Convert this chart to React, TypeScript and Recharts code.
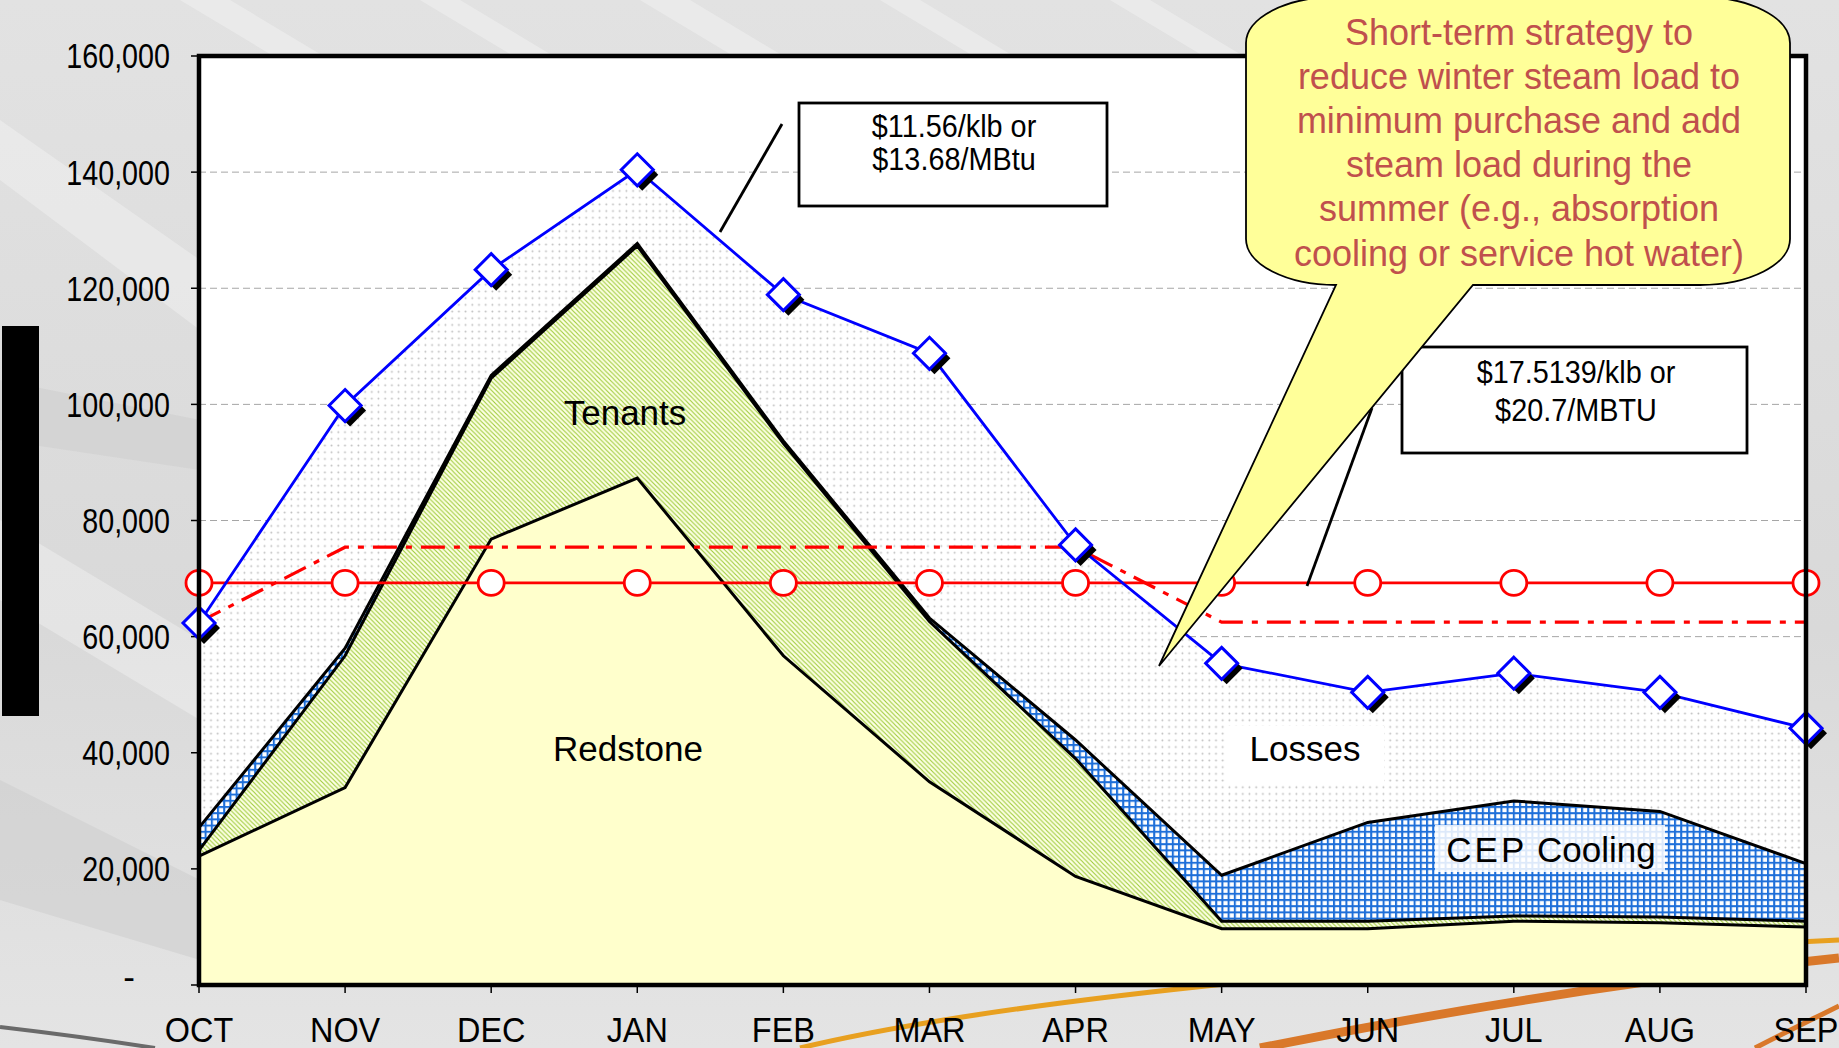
import React from 'react';
import { ComposedChart, Area, Line, XAxis, YAxis, CartesianGrid } from 'recharts';

// monthly steam load (lb)
const months = ['OCT', 'NOV', 'DEC', 'JAN', 'FEB', 'MAR', 'APR', 'MAY', 'JUN', 'JUL', 'AUG', 'SEP'];
const totalSteam = [62350, 99800, 123200, 140400, 118900, 108800, 75800, 55400, 50400, 53700, 50400, 44200];
const redstone = [22200, 34000, 76800, 87300, 56700, 35000, 18700, 9700, 9700, 11000, 10700, 10000];
const tenantsTop = [23200, 56700, 104500, 127300, 93300, 62600, 39000, 11000, 11000, 11900, 11700, 11000];
const coolingTop = [27100, 58000, 105000, 127700, 93700, 63200, 42200, 18900, 28000, 31700, 29900, 20900];
const minPurchase = [69250, 69250, 69250, 69250, 69250, 69250, 69250, 69250, 69250, 69250, 69250, 69250];
const contractLoad = [62500, 75400, 75400, 75400, 75400, 75400, 75400, 62500, 62500, 62500, 62500, 62500];
const yTicks = [0, 20000, 40000, 60000, 80000, 100000, 120000, 140000, 160000];

const W = 1839;
const H = 1048;
const FONT = '"Liberation Sans", Arial, Helvetica, sans-serif';

const chartData = months.map((m, i) => ({
    month: m,
    total: totalSteam[i],
    redstone: redstone[i],
    tenants: tenantsTop[i],
    cooling: coolingTop[i],
    minimum: minPurchase[i],
    contract: contractLoad[i],
}));

const DiamondDot = (props: any) => {
    const { cx, cy, index } = props;
    if (cx == null || cy == null) return null;
    const r = 16;
    const pts = (x: number, y: number) => `${x},${y - r} ${x + r},${y} ${x},${y + r} ${x - r},${y}`;
    return (
        <g key={`dia-${index}`}>
            <polygon points={pts(cx + 5, cy + 5)} fill="#000" />
            <polygon points={pts(cx, cy)} fill="#fff" stroke="#0000FF" strokeWidth={3} />
        </g>
    );
};

const CircleDot = (props: any) => {
    const { cx, cy, index } = props;
    if (cx == null || cy == null) return null;
    return <ellipse key={`cir-${index}`} cx={cx} cy={cy} rx={13} ry={12.5} fill="#fff" stroke="#FF0000" strokeWidth={2.8} />;
};

// narrow-looking tick text: squeeze the glyphs horizontally around the anchor
const YTick = (props: any) => {
    const { x, y, payload } = props;
    if (payload.value === 0) {
        return <text x={x - 41} y={y + 4} textAnchor="middle" fontFamily={FONT} fontSize={35} fill="#000">-</text>;
    }
    return (
        <text transform={`translate(${x},${y}) scale(0.82,1)`} dy="0.355em" textAnchor="end" fontFamily={FONT} fontSize={35} fill="#000">
            {payload.value.toLocaleString('en-US')}
        </text>
    );
};

const XTick = (props: any) => {
    const { x, y, payload } = props;
    return (
        <text transform={`translate(${x},${y}) scale(0.9,1)`} dy="0.71em" textAnchor="middle" fontFamily={FONT} fontSize={36} fill="#000">
            {payload.value}
        </text>
    );
};

// callout bubble outline
const cL = 1246, cR = 1790, cT = -3, cB = 285, crx = 90, cry = 46;
const calloutPath =
    `M ${cL + crx} ${cT} H ${cR - crx} A ${crx} ${cry} 0 0 1 ${cR} ${cT + cry} V ${cB - cry} ` +
    `A ${crx} ${cry} 0 0 1 ${cR - crx} ${cB} H 1473 L 1159 666 L 1336 ${cB} H ${cL + crx} ` +
    `A ${crx} ${cry} 0 0 1 ${cL} ${cB - cry} V ${cT + cry} A ${crx} ${cry} 0 0 1 ${cL + crx} ${cT} Z`;

const calloutLines = [
    'Short-term strategy to',
    'reduce winter steam load to',
    'minimum purchase and add',
    'steam load during the',
    'summer (e.g., absorption',
    'cooling or service hot water)',
];

const BoxText = ({ x, y, children }: { x: number; y: number; children: React.ReactNode }) => (
    <text transform={`translate(${x},${y}) scale(0.93,1)`} textAnchor="middle" fontSize={31} fill="#000">{children}</text>
);

const App: React.FC = () => {
    return (
        <div style={{ position: 'absolute', left: 0, top: 0, width: W, height: H, overflow: 'hidden', background: '#dedede' }}>
            {/* slide background */}
            <svg width={W} height={H} style={{ position: 'absolute', left: 0, top: 0 }}>
                <defs>
                    <linearGradient id="bg" x1="0" y1="0" x2="0" y2="1">
                        <stop offset="0%" stopColor="#e2e2e2" />
                        <stop offset="60%" stopColor="#d9d9d9" />
                        <stop offset="100%" stopColor="#e4e4e4" />
                    </linearGradient>
                </defs>
                <rect width={W} height={H} fill="url(#bg)" />
                <g fill="#ffffff" opacity={0.3}>
                    <polygon points="180,0 230,0 330,60 280,60" />
                    <polygon points="420,0 460,0 560,60 520,60" />
                    <polygon points="640,0 690,0 790,60 740,60" />
                    <polygon points="880,0 920,0 1020,60 980,60" />
                    <polygon points="1110,0 1150,0 1250,60 1210,60" />
                    <polygon points="0,120 0,180 200,330 200,260" />
                    <polygon points="0,520 0,600 200,720 200,640" />
                </g>
                <g fill="#cfcfcf" opacity={0.6}>
                    <polygon points="0,380 200,420 200,470 0,440" />
                    <polygon points="0,780 200,880 200,960 0,900" />
                </g>
                <path d="M 800 1048 C 1000 1000, 1400 960, 1839 940" stroke="#E8A020" strokeWidth={5} fill="none" />
                <path d="M 1260 1048 C 1450 1010, 1650 978, 1839 958" stroke="#D9782A" strokeWidth={9} fill="none" />
                <path d="M 1755 1048 C 1790 1030, 1815 1018, 1839 1006" stroke="#D9782A" strokeWidth={5} fill="none" />
                <path d="M 0 1027 C 60 1034, 110 1041, 155 1048" stroke="#6a6a6a" strokeWidth={4} fill="none" />
            </svg>
            <div style={{ position: 'absolute', left: 2, top: 326, width: 37, height: 390, background: '#000' }} />

            <div style={{ position: 'absolute', left: 0, top: 0 }}>
                <ComposedChart width={W} height={H} data={chartData} margin={{ top: 56, right: 33, bottom: 0, left: 0 }}>
                    <defs>
                        <pattern id="lossDots" patternUnits="userSpaceOnUse" width={6.7} height={6.7}>
                            <rect width={6.7} height={6.7} fill="#fff" />
                            <circle cx={3.3} cy={3.3} r={0.95} fill="#bdbdbd" />
                        </pattern>
                        <pattern id="coolGrid" patternUnits="userSpaceOnUse" width={6.2} height={6.2}>
                            <rect width={6.2} height={6.2} fill="#fff" />
                            <path d="M0,1 H6.2 M1,0 V6.2" stroke="#1E6FD9" strokeWidth={2.1} />
                        </pattern>
                        <pattern id="tenantHatch" patternUnits="userSpaceOnUse" width={4.6} height={4.6}>
                            <rect width={4.6} height={4.6} fill="#FDFFE4" />
                            <path d="M0,0 L4.6,4.6 M-1,3.6 L1,5.6 M3.6,-1 L5.6,1" stroke="#9ECB3A" strokeWidth={1.1} />
                        </pattern>
                    </defs>
                    <CartesianGrid horizontal vertical={false} stroke="#a6a6a6" strokeDasharray="7 4" fill="#ffffff" fillOpacity={1} />
                    <XAxis
                        dataKey="month"
                        interval={0}
                        height={63}
                        tickSize={8}
                        tickMargin={23}
                        axisLine={false}
                        tickLine={{ stroke: '#000', strokeWidth: 1.5 }}
                        tick={<XTick />}
                    />
                    <YAxis
                        domain={[0, 160000]}
                        ticks={yTicks}
                        width={199}
                        tickSize={8}
                        tickMargin={21}
                        axisLine={false}
                        tickLine={{ stroke: '#000', strokeWidth: 1.5 }}
                        tick={<YTick />}
                    />
                    <Area dataKey="total" type="linear" fill="url(#lossDots)" fillOpacity={1} stroke="none" activeDot={false} isAnimationActive={false} />
                    <Area dataKey="cooling" type="linear" fill="url(#coolGrid)" fillOpacity={1} stroke="#000" strokeWidth={3} activeDot={false} isAnimationActive={false} />
                    <Area dataKey="tenants" type="linear" fill="url(#tenantHatch)" fillOpacity={1} stroke="#000" strokeWidth={3} activeDot={false} isAnimationActive={false} />
                    <Area dataKey="redstone" type="linear" fill="#FFFFCC" fillOpacity={1} stroke="#000" strokeWidth={3} activeDot={false} isAnimationActive={false} />
                    <Line dataKey="contract" type="linear" stroke="#FF0000" strokeWidth={3.2} strokeDasharray="24 9 6 9" dot={false} activeDot={false} isAnimationActive={false} />
                    <Line dataKey="minimum" type="linear" stroke="#FF0000" strokeWidth={2.6} dot={CircleDot} activeDot={false} isAnimationActive={false} />
                    <Line dataKey="total" type="linear" stroke="#0000FF" strokeWidth={2.8} dot={DiamondDot} activeDot={false} isAnimationActive={false} />
                </ComposedChart>
            </div>

            {/* frame, labels and annotations */}
            <svg width={W} height={H} style={{ position: 'absolute', left: 0, top: 0, pointerEvents: 'none' }} fontFamily={FONT}>
                <rect x={199} y={56} width={1607} height={929} fill="none" stroke="#000" strokeWidth={4.5} />

                <text x={625} y={425} textAnchor="middle" fontSize={35} fill="#000">Tenants</text>
                <text x={628} y={761} textAnchor="middle" fontSize={35} fill="#000">Redstone</text>
                <rect x={1228} y={726} width={156} height={56} fill="#fff" />
                <text x={1305} y={761} textAnchor="middle" fontSize={35} fill="#000">Losses</text>
                <rect x={1435} y={825} width={230} height={47} fill="#fff" fillOpacity={0.85} />
                <text x={1551} y={862} textAnchor="middle" fontSize={35} fill="#000">
                    <tspan letterSpacing={3}>CEP</tspan> Cooling
                </text>

                <line x1={782} y1={124} x2={720} y2={232} stroke="#000" strokeWidth={2.8} />
                <rect x={799} y={103} width={308} height={103} fill="#fff" stroke="#000" strokeWidth={2.8} />
                <BoxText x={954} y={137}>$11.56/klb or</BoxText>
                <BoxText x={954} y={170}>$13.68/MBtu</BoxText>

                <line x1={1372} y1={408} x2={1307} y2={586} stroke="#000" strokeWidth={2.8} />
                <rect x={1402} y={347} width={345} height={106} fill="#fff" stroke="#000" strokeWidth={2.8} />
                <BoxText x={1576} y={383}>$17.5139/klb or</BoxText>
                <BoxText x={1576} y={421}>$20.7/MBTU</BoxText>

                <path d={calloutPath} fill="#FFFF99" stroke="#000" strokeWidth={1.8} />
                {calloutLines.map((t, i) => (
                    <text key={t} x={1519} y={44.5 + i * 44.2} textAnchor="middle" fontSize={36} fill="#C0504D">{t}</text>
                ))}
            </svg>
        </div>
    );
};

export default App;
